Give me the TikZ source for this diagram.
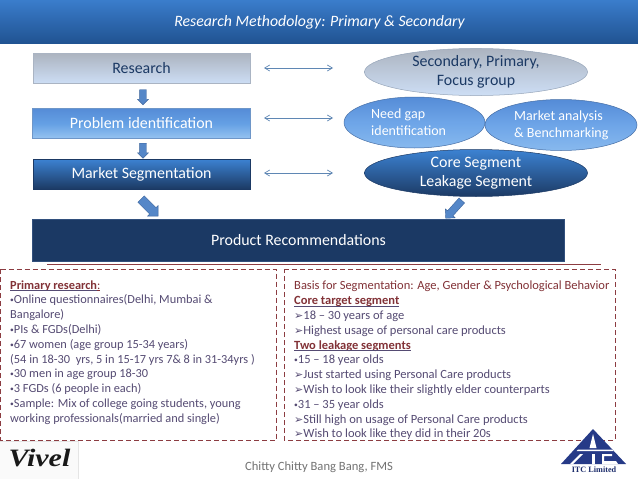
\documentclass[tikz,border=0pt]{standalone}
\usepackage{fontspec}
\setmainfont{Carlito}
\usetikzlibrary{shapes.geometric,shapes.arrows,arrows.meta,calc}
\definecolor{navy}{RGB}{27,57,100}
\definecolor{thinblue}{RGB}{95,135,180}
\definecolor{redd}{RGB}{140,60,65}
\definecolor{listtxt}{RGB}{85,75,115}
\definecolor{headtxt}{RGB}{130,50,55}
\definecolor{itcblue}{RGB}{38,58,135}
\newfontfamily\symf{DejaVu Sans}
\newfontfamily\logof{Liberation Serif}
\tikzset{
 x=1pt,y=-1pt,
 boxg/.style={rectangle,minimum height=30,inner sep=0,text=navy,font=\fontsize{15.9}{18}\selectfont,top color={rgb,255:red,172;green,180;blue,192},bottom color={rgb,255:red,205;green,222;blue,245},draw={rgb,255:red,170;green,180;blue,195},line width=.5pt},
 boxl/.style={rectangle,minimum height=30,inner sep=0,text=white,font=\fontsize{15.9}{18}\selectfont,top color={rgb,255:red,85;green,140;blue,215},bottom color={rgb,255:red,150;green,195;blue,240},middle color={rgb,255:red,100;green,160;blue,228},draw={rgb,255:red,110;green,150;blue,200},line width=.5pt},
 boxd/.style={rectangle,minimum height=30,inner sep=0,text=white,font=\fontsize{15.9}{18}\selectfont,top color={rgb,255:red,60;green,130;blue,210},bottom color={rgb,255:red,28;green,58;blue,100},draw=navy,line width=.5pt},
 elg/.style={ellipse,inner sep=0,align=center,text=navy,font=\fontsize{15.9}{19.5}\selectfont,top color={rgb,255:red,172;green,180;blue,192},bottom color={rgb,255:red,205;green,222;blue,245},draw={rgb,255:red,150;green,165;blue,185},line width=.5pt},
 ell/.style={ellipse,inner sep=0,text=white,top color={rgb,255:red,85;green,140;blue,215},bottom color={rgb,255:red,135;green,185;blue,238},middle color={rgb,255:red,110;green,165;blue,232},draw={rgb,255:red,70;green,110;blue,165},line width=.5pt},
 eld/.style={ellipse,inner sep=0,align=center,text=white,font=\fontsize{15.9}{19.5}\selectfont,top color={rgb,255:red,60;green,130;blue,210},bottom color={rgb,255:red,28;green,58;blue,100},draw=navy,line width=.5pt},
 twoway/.style={draw=thinblue,line width=.7pt,{Straight Barb[length=5pt,width=6pt]}-{Straight Barb[length=5pt,width=6pt]}},
 blockarrow/.style={single arrow,inner sep=0,minimum height=#1,single arrow head extend=2pt,single arrow head indent=0pt,draw={rgb,255:red,60;green,100;blue,155},line width=.4pt,fill={rgb,255:red,85;green,135;blue,200}},
 dashbox/.style={draw=redd,line width=1pt,dash pattern=on 5pt off 3pt},
 listtext/.style={anchor=north west,inner sep=0,align=left,text=listtxt,font=\fontsize{12.5}{14.8}\selectfont},
 ellipselabel/.style={anchor=west,inner sep=0,align=left,text=white,font=\fontsize{14}{16.7}\selectfont},
}
\newcommand{\hd}[1]{\underline{\smash{\color{headtxt}\bfseries #1}}}
\newcommand{\ar}{{\symf\fontsize{11}{14.8}\selectfont ➢}}
\newcommand{\bl}{{\fontsize{7.5}{14.8}\selectfont\raisebox{1.2pt}{•}}}
\begin{document}
\begin{tikzpicture}
\useasboundingbox (0,0) rectangle (638,479);
\fill[white] (0,0) rectangle (638,479);
% header
\node[rectangle,inner sep=0,minimum width=638,minimum height=43.5,anchor=north west,top color={rgb,255:red,58;green,125;blue,203},bottom color={rgb,255:red,32;green,82;blue,145}] (hdr) at (0,0) {};
\node[text=white,font=\fontsize{15.8}{18}\selectfont\itshape,inner sep=0] (title) at (319.5,22) {Research Methodology: Primary \& Secondary};
% left boxes
\node[boxg,minimum width=217] (res) at (141.5,68.5) {Research};
\node[boxl,minimum width=218] (prob) at (141.5,123.5) {Problem identification};
\node[boxd,minimum width=217] (mkt) at (141.5,174) {Market Segmentation};
\node[rectangle,inner sep=0,minimum width=532,minimum height=42,fill=navy,draw={rgb,255:red,50;green,80;blue,125},line width=.5pt,text=white,font=\fontsize{15.9}{18}\selectfont] (rec) at (298.5,240.5) {Product Recommendations};
% ellipses
\node[elg,minimum width=223,minimum height=47] (sec) at (476,72) {Secondary, Primary,\\Focus group};
\node[ell,minimum width=141,minimum height=51] (need) at (414.5,122.5) {};
\node[ell,minimum width=152,minimum height=51] (anal) at (561,125) {};
\node[eld,minimum width=223,minimum height=47] (core) at (476,173) {Core Segment\\Leakage Segment};
\node[ellipselabel] (needt) at (371,122.5) {Need gap\\identification};
\node[ellipselabel] (analt) at (514,125) {Market analysis\\\& Benchmarking};
% two-way arrows
\coordinate (a1) at (264,68);\coordinate (b1) at (333,68);
\coordinate (a2) at (264,118);\coordinate (b2) at (333,118);
\coordinate (a3) at (264,173);\coordinate (b3) at (333,173);
\draw[twoway] (a1) -- (b1);
\draw[twoway] (a2) -- (b2);
\draw[twoway] (a3) -- (b3);
% block arrows
\node[blockarrow=15pt,rotate=-90] (d1) at (143,95.5) {\rule{0pt}{6.5pt}};
\node[blockarrow=15pt,rotate=-90] (d2) at (143,149) {\rule{0pt}{6.5pt}};
\node[blockarrow=24pt,rotate=-45,single arrow head extend=3pt] (d3) at (148,206) {\rule{0pt}{8.5pt}};
\node[blockarrow=24pt,rotate=-132,single arrow head extend=3pt] (d4) at (455,208) {\rule{0pt}{7pt}};
% rules and dashed boxes
\coordinate (r1) at (47,264.5);\coordinate (r2) at (601,264.5);
\draw[redd,line width=.5pt] (r1) -- (r2);
\coordinate (p1) at (0.5,269);\coordinate (p2) at (276,269);\coordinate (p3) at (276,440);\coordinate (p4) at (0.5,440);
\draw[dashbox] (p1) -- (p2) -- (p3) -- (p4) -- cycle;
\coordinate (q1) at (284,269);\coordinate (q2) at (615,269);\coordinate (q3) at (615,440);\coordinate (q4) at (284,440);
\draw[dashbox] (q1) -- (q2) -- (q3) -- (q4) -- cycle;
\node[listtext,font=\fontsize{12.35}{14.8}\selectfont] (lt) at (10,283.5) {\hd{Primary research}{\color{headtxt}\underline{:}}\\
\bl Online questionnaires(Delhi, Mumbai \&\\
Bangalore)\\
\bl PIs \& FGDs(Delhi)\\
\bl 67 women (age group 15-34 years)\\
(54 in 18-30 \ yrs, 5 in 15-17 yrs 7\& 8 in 31-34yrs )\\
\bl 30 men in age group 18-30\\
\bl 3 FGDs (6 people in each)\\
\bl Sample: Mix of college going students, young\\
working professionals(married and single)};
\node[listtext] (rt) at (294,281) {{\color{headtxt}Basis for Segmentation: Age, Gender \& Psychological Behavior}\\
\hd{Core target segment}\\
\ar 18 – 30 years of age\\
\ar Highest usage of personal care products\\
\hd{Two leakage segments}\\
\bl 15 – 18 year olds\\
\ar Just started using Personal Care products\\
\ar Wish to look like their slightly elder counterparts\\
\bl 31 – 35 year olds\\
\ar Still high on usage of Personal Care products\\
\ar Wish to look like they did in their 20s};
% footer
\node[text=black!55,font=\fontsize{12.6}{15}\selectfont,inner sep=0] (foot) at (319,467) {Chitty Chitty Bang Bang, FMS};
% Vivel logo
\fill[black!2] (0,441) rectangle (78,479);
\draw[black!10,line width=.6pt] (0,441) -- (78,441) -- (78,479);
\node[font=\logof\fontsize{25}{25}\selectfont\itshape\bfseries,text=black!90,inner sep=0,xscale=1.2] (viv) at (39.5,458) {Vivel};
% ITC logo
\fill[itcblue] (593,429) -- (561,464) -- (626,464) -- cycle;
\fill[white] (593,434) -- (596.5,448) -- (589.5,448) -- cycle;
\fill[white] (578,449.5) -- (612,449.5) -- (613.5,451) -- (576.5,451) -- cycle;
\fill[white] (580,454) -- (583,454) -- (573,464) -- (570,464) -- cycle;
\fill[white] (592,454) -- (594.5,454) -- (594.5,464) -- (592,464) -- cycle;
\fill[white] (602,454) -- (612,454) -- (612,456) -- (604,456) -- (604,461) -- (616,461) -- (618,464) -- (602,464) -- cycle;
\node[font=\logof\fontsize{8.2}{9}\selectfont\bfseries,text=itcblue!80!black,inner sep=0] (itc) at (594,470) {ITC Limited};
\end{tikzpicture}
\end{document}
